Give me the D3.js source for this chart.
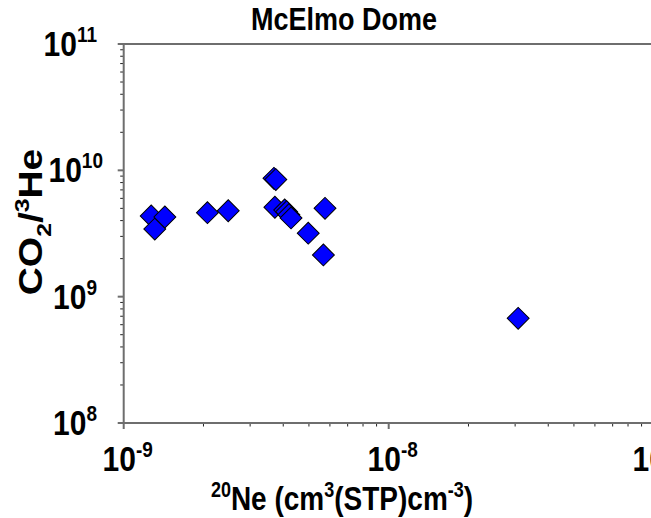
<!DOCTYPE html>
<html><head><meta charset="utf-8">
<script src="https://cdn.jsdelivr.net/npm/d3@7"></script>
<style>
html,body{margin:0;padding:0;background:#fff;}
svg text{font-family:"Liberation Sans",Arial,sans-serif;font-weight:bold;fill:#000;}
</style></head>
<body>
<svg id="c" width="651" height="518"></svg>
<script>
// Data: 20Ne (cm3 STP / cm3) vs CO2/3He
const ne20 = [1.27e-9, 1.31e-9, 1.43e-9, 2.07e-9, 2.48e-9, 3.69e-9, 3.75e-9, 3.72e-9, 4.05e-9, 4.12e-9, 4.2e-9, 4.28e-9, 4.97e-9, 5.75e-9, 5.67e-9, 3.08e-8];
const co2he3 = [4.35e9, 3.43e9, 4.27e9, 4.62e9, 4.79e9, 8.65e9, 8.45e9, 5.1e9, 4.85e9, 4.7e9, 4.45e9, 4.2e9, 3.18e9, 5.0e9, 2.14e9, 6.74e8];
const xDomain = [1e-9, 1e-7];
const yDomain = [1e8, 1e11];
const xTickExps = [-9, -8, -7];
const yTickExps = [8, 9, 10, 11];
const title = "McElmo Dome";

const svg = d3.select("#c");
const L = 123.7, R = 653.7, T = 44, B = 423;
const x = d3.scaleLog().domain(xDomain).range([L, R]);
const y = d3.scaleLog().domain(yDomain).range([B, T]);
const axisColor = "#6e6e6e";
const SY = 1.18; // vertical stretch of the reference's lettering

// minor/major ticks
const xMinor = [], yMinor = [];
for (let e = -9; e < -7; e++) for (let m = 2; m <= 9; m++) xMinor.push(m * Math.pow(10, e));
for (let e = 8; e < 11; e++) for (let m = 2; m <= 9; m++) yMinor.push(m * Math.pow(10, e));

const g = svg.append("g");
g.selectAll(".xm").data(xMinor).join("line")
  .attr("x1", d => x(d)).attr("x2", d => x(d)).attr("y1", B).attr("y2", B + 3.5)
  .attr("stroke", "#222").attr("stroke-width", 1);
g.selectAll(".xM").data(xTickExps).join("line")
  .attr("x1", d => x(Math.pow(10, d))).attr("x2", d => x(Math.pow(10, d))).attr("y1", B).attr("y2", B + 6)
  .attr("stroke", axisColor).attr("stroke-width", 2);
g.selectAll(".ym").data(yMinor).join("line")
  .attr("y1", d => y(d)).attr("y2", d => y(d)).attr("x1", L).attr("x2", L - 3.5)
  .attr("stroke", "#222").attr("stroke-width", 1);
g.selectAll(".yM").data(yTickExps).join("line")
  .attr("y1", d => y(Math.pow(10, d))).attr("y2", d => y(Math.pow(10, d))).attr("x1", L).attr("x2", L - 6)
  .attr("stroke", axisColor).attr("stroke-width", 2);

// axis lines
g.append("line").attr("x1", L).attr("x2", L).attr("y1", T).attr("y2", B + 1).attr("stroke", axisColor).attr("stroke-width", 2);
g.append("line").attr("x1", L - 1).attr("x2", 651).attr("y1", B).attr("y2", B).attr("stroke", axisColor).attr("stroke-width", 2);
g.append("line").attr("x1", L - 1).attr("x2", 651).attr("y1", T).attr("y2", T).attr("stroke", axisColor).attr("stroke-width", 2);

function stretchedText(px, py, anchor, size) {
  return svg.append("g").attr("transform", `translate(${px},${py}) scale(1,${SY})`)
    .append("text").attr("text-anchor", anchor).style("font-size", size + "px");
}

// tick labels
xTickExps.forEach(e => {
  const t = stretchedText(x(Math.pow(10, e)) + 4, 471, "middle", 30);
  t.append("tspan").text("10");
  t.append("tspan").attr("dy", -12).style("font-size", "19px").text(String(e));
});
yTickExps.forEach(e => {
  const t = stretchedText(e === 10 ? 103 : 97, y(Math.pow(10, e)) + 12, "end", 30);
  t.append("tspan").text("10");
  t.append("tspan").attr("dy", -12).style("font-size", "19px").text(String(e));
});

// points
const sym = d3.symbol().type(d3.symbolSquare).size(240);
svg.append("g").selectAll("path").data(ne20.map((d, i) => [d, co2he3[i]])).join("path")
  .attr("d", sym)
  .attr("transform", d => `translate(${x(d[0])},${y(d[1])}) rotate(45)`)
  .attr("fill", "#0000ff").attr("stroke", "#000").attr("stroke-width", 1);

// title
stretchedText(344, 30, "middle", 27).text(title);

// x axis title
const xt = stretchedText(342, 510, "middle", 28);
xt.append("tspan").attr("dy", -11).style("font-size", "18px").text("20");
xt.append("tspan").attr("dy", 11).text("Ne (cm");
xt.append("tspan").attr("dy", -11).style("font-size", "18px").text("3");
xt.append("tspan").attr("dy", 11).text("(STP)cm");
xt.append("tspan").attr("dy", -11).style("font-size", "18px").text("-3");
xt.append("tspan").attr("dy", 11).text(")");

// y axis title (stretched along its length)
const yt = svg.append("g").attr("transform", `translate(42,222) scale(1,${SY}) rotate(-90)`)
  .append("text").attr("text-anchor", "middle").style("font-size", "33px");
yt.append("tspan").text("CO");
yt.append("tspan").attr("dy", 9).style("font-size", "21px").text("2");
yt.append("tspan").attr("dy", -9).text("/");
yt.append("tspan").attr("dy", -13).style("font-size", "21px").text("3");
yt.append("tspan").attr("dy", 13).text("He");
</script>
</body></html>
